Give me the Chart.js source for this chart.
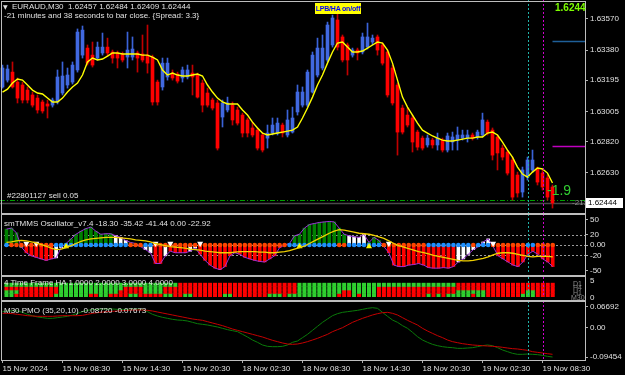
<!DOCTYPE html>
<html>
<head>
<meta charset="utf-8">
<script src="https://cdn.jsdelivr.net/npm/chart.js@4.4.1/dist/chart.umd.min.js"></script>
<style>
body { margin: 0; background: #000; width: 625px; height: 375px; overflow: hidden; position: relative; font-family: 'Liberation Sans', Arial, sans-serif; }
canvas { position: absolute; left: 0; }
.t { position: absolute; white-space: nowrap; color: #e0e0e0; font-size: 8px; line-height: 8px; }
.ln { position: absolute; background: #bdbdbd; }
</style>
</head>
<body>
<canvas id="main" width="625" height="214" style="top:0"></canvas>
<canvas id="osc" width="625" height="63" style="top:214px"></canvas>
<canvas id="grid" width="625" height="24" style="top:277px"></canvas>
<canvas id="pmo" width="625" height="74" style="top:301px"></canvas>

<!-- frame -->
<div class="ln" style="left:1px;top:1px;width:1px;height:360px"></div>
<div class="ln" style="left:1px;top:1px;width:585px;height:1px"></div>
<div class="ln" style="left:585px;top:1px;width:1px;height:360px"></div>
<div class="ln" style="left:1px;top:213px;width:585px;height:2px"></div>
<div class="ln" style="left:1px;top:275px;width:585px;height:2px"></div>
<div class="ln" style="left:1px;top:300px;width:585px;height:2px"></div>
<div class="ln" style="left:1px;top:360px;width:585px;height:1px"></div>

<!-- texts -->
<div class="t" style="left:3px;top:3px;font-family:'DejaVu Sans';font-size:6px">&#9660;</div>
<div class="t" style="left:12px;top:3px">EURAUD,M30&nbsp; 1.62457 1.62484 1.62409 1.62444</div>
<div class="t" style="left:4px;top:12px">-21 minutes and 38 seconds to bar close. {Spread: 3.3}</div>
<div class="t" style="left:315px;top:3px;width:46px;height:11px;background:#ffff00;color:#0000ff;font-weight:bold;font-size:7px;line-height:11px;text-align:center;letter-spacing:-0.2px">LPB/HA on/off</div>
<div class="t" style="left:555px;top:3px;color:#7cfc00;font-weight:bold;font-size:10px;line-height:10px">1.6244</div>
<div class="t" style="left:7px;top:192px">#22801127 sell 0.05</div>
<div class="t" style="left:547px;top:183px;color:#32cd32;font-size:14px;line-height:14px">-1.9</div>
<div class="t" style="left:572px;top:199px;color:#8c8c8c">-21:</div>
<div class="t" style="left:586px;top:198px;width:35px;height:10px;background:#fff;color:#000;line-height:10px;padding-left:2px">1.62444</div>
<div class="t" style="left:4px;top:220px">smTMMS Oscillator_v7.4 -18.30 -35.42 -41.44 0.00 -22.92</div>
<div class="t" style="left:4px;top:279px">4 Time Frame HA 1.0000 2.0000 3.0000 4.0000</div>
<div class="t" style="left:590px;top:277px">5</div>
<div class="t" style="left:590px;top:294px">0</div>
<div class="t" style="left:573px;top:280px;color:#8c8c8c;font-size:7px">D1</div>
<div class="t" style="left:573px;top:284px;color:#8c8c8c;font-size:7px">H4</div>
<div class="t" style="left:573px;top:289px;color:#8c8c8c;font-size:7px">H1</div>
<div class="t" style="left:571px;top:294px;color:#8c8c8c;font-size:7px">M30</div>
<div class="t" style="left:4px;top:307px">M30 PMO (35,20,10) -0.08720 -0.07673</div>

<script>
// EURAUD M30 candles, 15 Nov 02:30 .. 19 Nov 09:30
const opens = [1.63154,1.63196,1.63245,1.63184,1.63166,1.63135,1.63105,1.63086,1.63062,1.63050,
  1.63043,1.63062,1.63117,1.63166,1.63184,1.63258,1.63349,1.63392,1.63349,1.63331,
  1.63362,1.63398,1.63368,1.63362,1.63356,1.63337,1.63337,1.63362,1.63356,1.63349,
  1.63337,1.63184,1.63154,1.63215,1.63239,1.63233,1.63209,1.63215,1.63239,1.63227,
  1.63178,1.63117,1.63074,1.63056,1.62970,1.63013,1.63043,1.63013,1.62982,1.62952,
  1.62903,1.62890,1.62860,1.62841,1.62872,1.62872,1.62921,1.62860,1.62878,1.63001,
  1.63043,1.63043,1.63123,1.63227,1.63270,1.63319,1.63411,1.63564,1.63460,1.63411,
  1.63349,1.63380,1.63368,1.63398,1.63429,1.63460,1.63411,1.63368,1.63270,1.63166,
  1.63025,1.62982,1.62964,1.62878,1.62841,1.62799,1.62829,1.62799,1.62829,1.62768,
  1.62817,1.62829,1.62841,1.62841,1.62860,1.62848,1.62860,1.62939,1.62890,1.62848,
  1.62780,1.62756,1.62707,1.62615,1.62511,1.62603,1.62646,1.62658,1.62627,1.62597,1.62542];
const highs = [1.63288,1.63288,1.63307,1.63209,1.63184,1.63154,1.63123,1.63105,1.63074,1.63074,
  1.63086,1.63258,1.63307,1.63270,1.63307,1.63509,1.63527,1.63411,1.63429,1.63429,
  1.63484,1.63453,1.63380,1.63374,1.63368,1.63490,1.63460,1.63374,1.63472,1.63533,
  1.63349,1.63196,1.63331,1.63331,1.63258,1.63245,1.63276,1.63288,1.63288,1.63239,
  1.63196,1.63147,1.63086,1.63074,1.63074,1.63092,1.63062,1.63031,1.62994,1.62964,
  1.62939,1.62903,1.62872,1.62921,1.62964,1.62964,1.62933,1.63013,1.63031,1.63166,
  1.63154,1.63258,1.63368,1.63453,1.63472,1.63551,1.63594,1.63606,1.63472,1.63423,
  1.63392,1.63392,1.63484,1.63545,1.63472,1.63472,1.63423,1.63380,1.63288,1.63178,
  1.63043,1.63025,1.62982,1.62890,1.62854,1.62860,1.62841,1.62872,1.62841,1.62872,
  1.62878,1.62909,1.62890,1.62890,1.62872,1.62890,1.62994,1.62952,1.62903,1.62860,
  1.62799,1.62768,1.62725,1.62633,1.62664,1.62725,1.62768,1.62664,1.62646,1.62615,1.62554];
const lows = [1.63147,1.63184,1.63147,1.63056,1.63056,1.63056,1.63031,1.62994,1.62994,1.62964,
  1.63031,1.63050,1.63105,1.63147,1.63172,1.63245,1.63331,1.63288,1.63276,1.63319,
  1.63349,1.63343,1.63300,1.63270,1.63307,1.63270,1.63319,1.63245,1.63307,1.63239,
  1.63043,1.63043,1.63135,1.63196,1.63196,1.63178,1.63184,1.63203,1.63105,1.63086,
  1.63001,1.63031,1.63013,1.62768,1.62909,1.63001,1.62921,1.62921,1.62848,1.62848,
  1.62848,1.62768,1.62756,1.62780,1.62860,1.62860,1.62848,1.62848,1.62872,1.62982,
  1.63031,1.63031,1.63117,1.63215,1.63258,1.63307,1.63398,1.63380,1.63307,1.63227,
  1.63337,1.63319,1.63356,1.63386,1.63411,1.63349,1.63288,1.63092,1.63043,1.62737,
  1.62866,1.62909,1.62756,1.62768,1.62768,1.62786,1.62780,1.62768,1.62756,1.62756,
  1.62768,1.62768,1.62829,1.62817,1.62829,1.62835,1.62848,1.62860,1.62707,1.62646,
  1.62707,1.62615,1.62462,1.62480,1.62480,1.62584,1.62633,1.62554,1.62523,1.62462,1.62413];
const closes = [1.63270,1.63264,1.63154,1.63086,1.63074,1.63074,1.63043,1.63013,1.63007,1.63037,
  1.63074,1.63215,1.63221,1.63227,1.63288,1.63490,1.63502,1.63300,1.63288,1.63398,
  1.63398,1.63362,1.63331,1.63331,1.63319,1.63380,1.63386,1.63331,1.63319,1.63300,
  1.63062,1.63062,1.63300,1.63300,1.63209,1.63190,1.63258,1.63258,1.63215,1.63092,
  1.63043,1.63043,1.63025,1.62780,1.63056,1.63056,1.62952,1.62933,1.62872,1.62872,
  1.62860,1.62780,1.62768,1.62872,1.62921,1.62933,1.62872,1.62952,1.62964,1.63123,
  1.63123,1.63245,1.63349,1.63392,1.63392,1.63533,1.63576,1.63398,1.63319,1.63319,
  1.63380,1.63362,1.63460,1.63460,1.63453,1.63380,1.63300,1.63105,1.63056,1.62878,
  1.62878,1.62921,1.62817,1.62786,1.62780,1.62841,1.62799,1.62841,1.62768,1.62854,
  1.62848,1.62860,1.62860,1.62860,1.62841,1.62878,1.62952,1.62872,1.62737,1.62750,
  1.62725,1.62627,1.62480,1.62505,1.62646,1.62707,1.62707,1.62572,1.62542,1.62480,1.62444];
// yellow moving average
const ma = [1.63123,1.63141,1.63178,1.63203,1.63196,1.63166,1.63135,1.63117,1.63111,1.63086,
  1.63062,1.63062,1.63086,1.63123,1.63154,1.63178,1.63227,1.63307,1.63331,1.63319,
  1.63325,1.63343,1.63362,1.63362,1.63356,1.63356,1.63356,1.63356,1.63349,1.63349,
  1.63337,1.63319,1.63258,1.63227,1.63239,1.63227,1.63221,1.63221,1.63227,1.63233,
  1.63221,1.63166,1.63123,1.63086,1.63062,1.63050,1.63050,1.63050,1.63013,1.62982,
  1.62939,1.62903,1.62872,1.62860,1.62866,1.62872,1.62878,1.62884,1.62890,1.62909,
  1.62964,1.63025,1.63092,1.63166,1.63227,1.63300,1.63368,1.63423,1.63429,1.63398,
  1.63368,1.63368,1.63374,1.63392,1.63411,1.63429,1.63423,1.63380,1.63300,1.63196,
  1.63092,1.63031,1.62982,1.62933,1.62890,1.62872,1.62854,1.62841,1.62829,1.62823,
  1.62823,1.62829,1.62835,1.62841,1.62841,1.62848,1.62848,1.62872,1.62878,1.62860,
  1.62817,1.62768,1.62725,1.62664,1.62621,1.62603,1.62633,1.62658,1.62652,1.62627,1.62566];
const priceTicks = [1.63570, 1.63380, 1.63195, 1.63005, 1.62820, 1.62630];
const bidPrice = 1.62444;
const sellPrice = 1.62462;
const tpPrice = 1.63435;
const slPrice = 1.62793;

// smTMMS oscillator
const hist = [31,33,24,-4,-15,-21,-24,-27,-30,-27,
  -25,-5,3,12,21,27,32,35,27,21,
  22,22,18,15,9,5,3,-3,-9,-15,
  -36,-36,-21,-12,-15,-15,-15,-12,-6,-18,
  -30,-39,-45,-48,-42,-21,-15,-18,-24,-27,
  -30,-32,-33,-27,-21,-5,0,3,18,21,
  33,40,42,44,45,46,45,33,21,18,
  16,15,21,5,15,9,-3,-15,-39,-42,
  -42,-39,-38,-36,-39,-44,-45,-45,-44,-45,
  -42,-33,-27,-18,-9,-3,6,12,-3,-21,
  -27,-33,-39,-42,-33,-18,-12,-18,-27,-33,-42];
const histColorRuns = 'g3 w1 r6 w2 g10 w3 g2 w3 r2 w1 r4 w2 r18 g12 w4 g3 w1 r14 w7 r13';
const signal = [5,6,8,9,8,6,4,1,-2,-6,
  -9,-8,-5,-1,3,7,10,12,13,14,
  15,15,15,14,13,12,10,9,8,6,
  3,1,-1,-3,-4,-5,-6,-8,-9,-10,
  -12,-13,-14,-15,-15,-15,-14,-13,-13,-13,
  -13,-14,-14,-15,-15,-14,-13,-11,-8,-5,
  -2,3,8,13,18,23,27,30,29,27,
  25,23,22,21,19,16,13,8,3,-1,
  -4,-7,-10,-13,-15,-17,-20,-22,-24,-26,
  -28,-30,-31,-31,-30,-28,-26,-23,-19,-16,
  -15,-15,-16,-18,-20,-22,-23,-22,-22,-22,-23];
const dotColorRuns = 'b1 o9 b15 o3 b2 o27 b10 o2 b7 o9 b9 o1 b3 o7 b2 o4';
const downArrows = [4, 6, 30, 33, 39, 77, 98];
const upArrows = [12, 59, 73];
const oscTicks = [50, 20, 0, -20, -50];
const oscLevels = [20, 0, -20];

// 4 time frame HA rows (D1, H4, H1, M30)
const rowD1 = 'g35 r24 g32 r20';
const rowH4 = 'r11 g13 r4 g4 r27 g16 r36';
const rowH1 = 'g3 r8 g12 r5 g4 r27 g9 r2 g5 r16 g6 r8 g2 r4';
const rowM30 = 'g2 r8 g7 r2 g2 r4 g2 r5 g2 r2 g2 r6 g2 r7 g3 r1 g10 r3 g1 r1 g3 r10 g1 r1 g1 r1 g5 r1 g2 r7 g3 r4';

// PMO (35,20,10)
const pmo = [0.0517,0.0539,0.0549,0.0539,0.0496,0.0431,0.0388,0.0345,0.0324,0.0302,
  0.0302,0.0324,0.0345,0.0367,0.0410,0.0464,0.0517,0.0560,0.0582,0.0592,
  0.0603,0.0603,0.0603,0.0592,0.0592,0.0592,0.0603,0.0603,0.0592,0.0517,
  0.0431,0.0377,0.0335,0.0302,0.0270,0.0248,0.0238,0.0216,0.0173,0.0130,
  0.0109,0.0087,0.0055,0.0023,-0.0020,-0.0063,-0.0096,-0.0128,-0.0214,-0.0300,
  -0.0397,-0.0472,-0.0558,-0.0601,-0.0612,-0.0612,-0.0601,-0.0558,-0.0472,-0.0429,
  -0.0321,-0.0214,-0.0085,0.0044,0.0173,0.0281,0.0388,0.0453,0.0496,0.0517,
  0.0539,0.0560,0.0592,0.0625,0.0646,0.0625,0.0496,0.0367,0.0248,0.0173,
  0.0066,-0.0020,-0.0149,-0.0289,-0.0397,-0.0472,-0.0537,-0.0580,-0.0612,-0.0633,
  -0.0644,-0.0666,-0.0666,-0.0655,-0.0644,-0.0612,-0.0580,-0.0558,-0.0580,-0.0644,
  -0.0719,-0.0773,-0.0827,-0.0859,-0.0859,-0.0849,-0.0859,-0.0870,-0.0892,-0.0924,-0.0945];
const pmoSignal = [0.0464,0.0464,0.0453,0.0431,0.0410,0.0388,0.0377,0.0367,0.0367,0.0367,
  0.0367,0.0377,0.0388,0.0388,0.0388,0.0388,0.0399,0.0431,0.0464,0.0485,
  0.0506,0.0517,0.0528,0.0539,0.0549,0.0560,0.0571,0.0571,0.0571,0.0560,
  0.0539,0.0506,0.0474,0.0442,0.0410,0.0377,0.0345,0.0313,0.0281,0.0259,
  0.0238,0.0195,0.0152,0.0109,0.0066,0.0012,-0.0042,-0.0085,-0.0128,-0.0171,
  -0.0214,-0.0257,-0.0300,-0.0354,-0.0407,-0.0450,-0.0493,-0.0526,-0.0537,-0.0526,
  -0.0493,-0.0450,-0.0397,-0.0343,-0.0278,-0.0214,-0.0128,-0.0063,0.0001,0.0087,
  0.0173,0.0238,0.0302,0.0356,0.0410,0.0453,0.0485,0.0496,0.0464,0.0410,
  0.0324,0.0238,0.0162,0.0087,-0.0020,-0.0106,-0.0182,-0.0257,-0.0321,-0.0397,
  -0.0450,-0.0483,-0.0515,-0.0537,-0.0558,-0.0569,-0.0580,-0.0590,-0.0601,-0.0612,
  -0.0633,-0.0655,-0.0676,-0.0687,-0.0708,-0.0730,-0.0773,-0.0795,-0.0816,-0.0838,-0.0859];
const pmoTicks = [0.06692, 0, -0.09454];

// time axis
const timeTickBars = [0, 12, 24, 36, 48, 60, 72, 84, 96, 108];
const timeLabels = ['15 Nov 2024', '15 Nov 08:30', '15 Nov 14:30', '15 Nov 20:30', '18 Nov 02:30',
  '18 Nov 08:30', '18 Nov 14:30', '18 Nov 20:30', '19 Nov 02:30', '19 Nov 08:30'];
const markerBars = [105, 108];
const markerColors = ['#20b2aa', '#d000d0'];

const BLUE = '#4169e1', RED = '#ff0000';
const GREEN_SQ = '#2fd02f';

function expand(runs) {
    const out = [];
    runs.split(' ').forEach(r => {
        const n = parseInt(r.slice(1), 10);
        for (let k = 0; k < n; k++) out.push(r[0]);
    });
    return out;
}

Chart.defaults.font.family = "'Liberation Sans', Arial, sans-serif";
Chart.defaults.font.size = 8;
Chart.defaults.color = '#e0e0e0';
Chart.defaults.animation = false;
Chart.defaults.plugins.legend.display = false;
Chart.defaults.plugins.tooltip.enabled = false;

function xScale(show) {
    return {
        type: 'linear', min: -0.5, max: 116.5, display: show, offset: false,
        afterBuildTicks: s => { s.ticks = timeTickBars.map(v => ({ value: v })); },
        afterFit: s => {
            s.height = show ? 15 : 0;
            s.paddingLeft = 0;
            s.paddingRight = 0;
        },
        grid: { drawOnChartArea: false, drawTicks: true, tickLength: 3, color: '#b0b0b0', offset: false },
        border: { display: false },
        ticks: {
            autoSkip: false, maxRotation: 0, align: 'start', padding: 1,
            callback: v => timeLabels[timeTickBars.indexOf(v)]
        }
    };
}

function yScale(min, max, ticks, fmt, showTicks = true) {
    return {
        position: 'right', min: min, max: max,
        afterBuildTicks: s => { s.ticks = ticks.map(v => ({ value: v })); },
        afterFit: s => { s.width = 40; s.paddingTop = 0; s.paddingBottom = 0; },
        grid: { drawOnChartArea: false, drawTicks: showTicks, tickLength: 3, color: '#b0b0b0' },
        border: { display: false },
        ticks: { display: showTicks, padding: 2, callback: fmt }
    };
}

const markers = {
    id: 'markers',
    afterDatasetsDraw(chart) {
        const { ctx, chartArea: a, scales: { x } } = chart;
        ctx.save();
        ctx.setLineDash([2, 2]);
        ctx.lineWidth = 1;
        markerBars.forEach((b, k) => {
            const px = Math.round(x.getPixelForValue(b)) + 0.5;
            ctx.strokeStyle = markerColors[k];
            ctx.beginPath();
            ctx.moveTo(px, 0);
            ctx.lineTo(px, a.bottom);
            ctx.stroke();
        });
        ctx.restore();
    }
};

const idx = closes.map((_, i) => i);

// ---- main price pane
const candleColor = closes.map((c, i) => c >= opens[i] ? BLUE : RED);
const wickColor = closes.map((c, i) => c >= opens[i] ? '#3a63d8' : '#c00000');

const priceLines = {
    id: 'priceLines',
    beforeDatasetsDraw(chart) {
        const { ctx, chartArea: a, scales: { x, y } } = chart;
        ctx.save();
        let py = Math.round(y.getPixelForValue(bidPrice)) + 0.5;
        ctx.strokeStyle = '#4a4a4a';
        ctx.lineWidth = 1.5;
        ctx.beginPath(); ctx.moveTo(a.left, py); ctx.lineTo(a.right, py); ctx.stroke();
        py = Math.round(y.getPixelForValue(sellPrice)) + 0.5;
        ctx.strokeStyle = '#00a000';
        ctx.lineWidth = 1;
        ctx.setLineDash([5, 2, 1, 2]);
        ctx.beginPath(); ctx.moveTo(a.left, py); ctx.lineTo(a.right, py); ctx.stroke();
        ctx.restore();
    },
    afterDatasetsDraw(chart) {
        const { ctx, chartArea: a, scales: { x, y } } = chart;
        const x0 = x.getPixelForValue(closes.length - 1);
        ctx.save();
        ctx.lineWidth = 1.5;
        [[tpPrice, '#1f5f99'], [slPrice, '#c000c0']].forEach(([p, col]) => {
            const py = Math.round(y.getPixelForValue(p)) + 0.5;
            ctx.strokeStyle = col;
            ctx.beginPath(); ctx.moveTo(x0, py); ctx.lineTo(a.right, py); ctx.stroke();
        });
        ctx.restore();
    }
};

new Chart(document.getElementById('main'), {
    type: 'bar',
    data: {
        datasets: [
            {
                type: 'line', data: ma.map((v, i) => ({ x: i, y: v })),
                borderColor: '#ffff00', borderWidth: 1.4, pointRadius: 0, order: 0
            },
            {
                data: opens.map((o, i) => ({ x: i, y: [o, closes[i]] })),
                backgroundColor: candleColor, barThickness: 3, grouped: false, minBarLength: 1, order: 1
            },
            {
                data: lows.map((l, i) => ({ x: i, y: [l, highs[i]] })),
                backgroundColor: wickColor, barThickness: 1, grouped: false, order: 2
            }
        ]
    },
    options: {
        responsive: false,
        events: [],
        layout: { padding: { top: 2, bottom: 1, left: 0, right: 0 } },
        scales: {
            x: xScale(false),
            y: yScale(1.623827, 1.636740, priceTicks, v => v.toFixed(5))
        }
    },
    plugins: [priceLines, markers]
});

// ---- oscillator pane
const histCol = expand(histColorRuns).map(c => c === 'g' ? '#008000' : c === 'r' ? '#ff0000' : '#ffffff');
const dotCol = expand(dotColorRuns).map(c => c === 'b' ? '#1e90ff' : '#ff4500');

const oscLevelPlugin = {
    id: 'oscLevels',
    beforeDatasetsDraw(chart) {
        const { ctx, chartArea: a, scales: { y } } = chart;
        ctx.save();
        ctx.strokeStyle = '#9a9a9a';
        ctx.lineWidth = 1;
        ctx.setLineDash([2, 2]);
        oscLevels.forEach(v => {
            const py = Math.round(y.getPixelForValue(v)) + 0.5;
            ctx.beginPath(); ctx.moveTo(a.left, py); ctx.lineTo(a.right, py); ctx.stroke();
        });
        ctx.restore();
    }
};

new Chart(document.getElementById('osc'), {
    type: 'bar',
    data: {
        datasets: [
            {
                type: 'line', data: signal.map((v, i) => ({ x: i, y: v })),
                borderColor: '#f0d000', borderWidth: 1.3, pointRadius: 0, order: 0
            },
            {
                type: 'scatter', data: downArrows.map(i => ({ x: i, y: 3 })),
                pointStyle: 'triangle', rotation: 180, pointRadius: 3.5,
                pointBackgroundColor: '#ffffff', pointBorderWidth: 0, order: 1
            },
            {
                type: 'scatter', data: upArrows.map(i => ({ x: i, y: -3 })),
                pointStyle: 'triangle', pointRadius: 3.5,
                pointBackgroundColor: '#ffff00', pointBorderWidth: 0, order: 1
            },
            {
                type: 'scatter', data: idx.map(i => ({ x: i, y: 0 })),
                pointRadius: 2.3, pointBackgroundColor: dotCol, pointBorderWidth: 0, order: 2
            },
            {
                type: 'line', data: hist.map((v, i) => ({ x: i, y: v })),
                borderColor: '#9b30d9', borderWidth: 1, pointRadius: 0, order: 3
            },
            {
                data: hist.map((v, i) => ({ x: i, y: v })),
                backgroundColor: histCol, barThickness: 3, grouped: false, order: 4
            }
        ]
    },
    options: {
        responsive: false,
        events: [],
        layout: { padding: { top: 2, bottom: 2, left: 0, right: 0 } },
        scales: {
            x: xScale(false),
            y: yScale(-54.5, 52.7, oscTicks, v => v === 0 ? '0.00' : String(v))
        }
    },
    plugins: [oscLevelPlugin, markers]
});

// ---- 4 time frame grid pane
const rows = [[rowD1, 4], [rowH4, 3], [rowH1, 2], [rowM30, 1]];
new Chart(document.getElementById('grid'), {
    type: 'scatter',
    data: {
        datasets: rows.map(([runs, level]) => ({
            data: idx.map(i => ({ x: i, y: level })),
            pointStyle: 'rect', pointRadius: 2.85, pointBorderWidth: 0,
            pointBackgroundColor: expand(runs).map(c => c === 'g' ? GREEN_SQ : '#ff0000')
        }))
    },
    options: {
        responsive: false,
        events: [],
        layout: { padding: { top: 0, bottom: 1, left: 0, right: 0 } },
        scales: {
            x: xScale(false),
            y: yScale(0.5, 5.1, [], v => '', false)
        }
    },
    plugins: [markers]
});

// ---- PMO pane
new Chart(document.getElementById('pmo'), {
    type: 'line',
    data: {
        datasets: [
            {
                data: pmoSignal.map((v, i) => ({ x: i, y: v })),
                borderColor: '#c40000', borderWidth: 1, pointRadius: 0
            },
            {
                data: pmo.map((v, i) => ({ x: i, y: v })),
                borderColor: '#0a7a0a', borderWidth: 1, pointRadius: 0
            }
        ]
    },
    options: {
        responsive: false,
        events: [],
        layout: { padding: { top: 2, bottom: 0, left: 0, right: 0 } },
        scales: {
            x: xScale(true),
            y: yScale(-0.1042, 0.0797, pmoTicks, v => v === 0 ? '0.00' : v.toFixed(5))
        }
    },
    plugins: [markers]
});
</script>
</body>
</html>
